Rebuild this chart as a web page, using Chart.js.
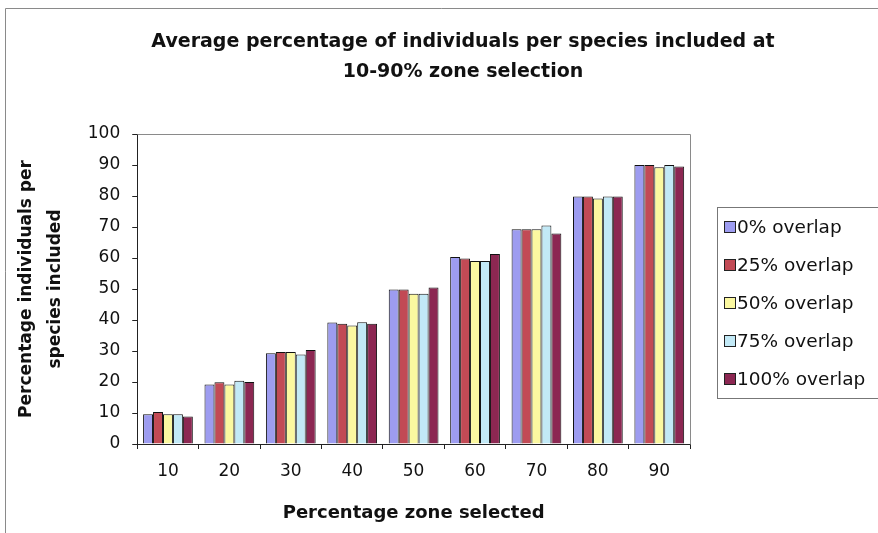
<!DOCTYPE html>
<html>
<head>
<meta charset="utf-8">
<script src="https://cdn.jsdelivr.net/npm/chart.js@4"></script>
<style>
    html, body { margin: 0; padding: 0; background: #fff; }
    #wrap { width: 878px; height: 533px; }
</style>
</head>
<body>
<div id="wrap"><canvas id="graf" width="878" height="533"></canvas></div>
<script>
const zones = ["10", "20", "30", "40", "50", "60", "70", "80", "90"];
const seriesNames = ["0% overlap", "25% overlap", "50% overlap", "75% overlap", "100% overlap"];
const overlap0 = [9.6, 19.2, 29.3, 39.2, 49.8, 60.3, 69.3, 79.8, 90.0];
const overlap25 = [10.3, 19.9, 29.7, 38.8, 49.8, 59.8, 69.3, 79.8, 90.0];
const overlap50 = [9.6, 19.2, 29.7, 38.2, 48.5, 59.0, 69.3, 79.2, 89.3];
const overlap75 = [9.6, 20.4, 28.9, 39.3, 48.5, 59.0, 70.5, 79.8, 90.0];
const overlap100 = [8.9, 20.0, 30.3, 38.8, 50.5, 61.3, 67.9, 79.8, 89.5];
const colors = ["#9d9cf0", "#c24a55", "#fbf8a0", "#c2e9f6", "#8c2752"];
const titleLines = ["Average percentage of individuals per species included at", "10-90% zone selection"];

const FONT = "'DejaVu Sans', Arial, sans-serif";

// rahmen, titel und legende selbst zeichnen
const extras = {
    id: "extras",
    beforeDraw(chart) {
        const ctx = chart.ctx;
        ctx.save();
        ctx.strokeStyle = "#8a8a8a";
        ctx.lineWidth = 1;
        ctx.beginPath();
        ctx.moveTo(5.5, 540);
        ctx.lineTo(5.5, 8.5);
        ctx.lineTo(878, 8.5);
        ctx.stroke();
        ctx.restore();
    },
    afterDraw(chart) {
        const ctx = chart.ctx;
        const a = chart.chartArea;
        ctx.save();
        // obere und rechte kante der plotflaeche
        ctx.strokeStyle = "#8a8a8a";
        ctx.lineWidth = 1;
        ctx.beginPath();
        ctx.moveTo(Math.round(a.left) + 0.5, Math.round(a.top) + 0.5);
        ctx.lineTo(Math.round(a.right) + 0.5, Math.round(a.top) + 0.5);
        ctx.lineTo(Math.round(a.right) + 0.5, Math.round(a.bottom) + 0.5);
        ctx.stroke();

        // titel
        ctx.fillStyle = "#111";
        ctx.font = "bold 19px " + FONT;
        ctx.textAlign = "center";
        ctx.textBaseline = "middle";
        titleLines.forEach((t, i) => ctx.fillText(t, 463, 42 + i * 30));

        // legende
        ctx.strokeStyle = "#777";
        ctx.strokeRect(717.5, 207.5, 200, 191);
        ctx.font = "18.5px " + FONT;
        ctx.textAlign = "left";
        chart.data.datasets.forEach((ds, i) => {
            const y = 227 + i * 38;
            ctx.fillStyle = ds.backgroundColor;
            ctx.fillRect(724, y - 5, 11, 11);
            ctx.strokeStyle = "#222";
            ctx.strokeRect(724.5, y - 5.5, 11, 11);
            ctx.fillStyle = "#111";
            ctx.fillText(ds.label, 737, y + 1);
        });
        ctx.restore();
    }
};

const allSeries = [overlap0, overlap25, overlap50, overlap75, overlap100];

const ctx = document.getElementById("graf").getContext("2d");
new Chart(ctx, {
    type: "bar",
    data: {
        labels: zones,
        datasets: allSeries.map((values, i) => ({
            label: seriesNames[i],
            data: values,
            backgroundColor: colors[i],
            borderColor: "#111",
            borderWidth: 1,
            borderSkipped: "bottom",
            categoryPercentage: 0.81,
            barPercentage: 1.0
        }))
    },
    options: {
        responsive: false,
        animation: false,
        layout: {
            padding: { top: 134, right: 188, left: 12, bottom: 9 }
        },
        plugins: {
            legend: { display: false },
            title: { display: false },
            tooltip: { enabled: false }
        },
        scales: {
            x: {
                grid: {
                    offset: true,
                    drawOnChartArea: false,
                    tickLength: 5,
                    color: "#222"
                },
                border: { color: "#222" },
                ticks: {
                    color: "#111",
                    font: { family: FONT, size: 17 },
                    padding: 12
                },
                title: {
                    display: true,
                    text: "Percentage zone selected",
                    color: "#111",
                    font: { family: FONT, size: 18, weight: "bold" },
                    padding: { top: 9, bottom: 0 }
                }
            },
            y: {
                min: 0,
                max: 100,
                ticks: {
                    stepSize: 10,
                    color: "#111",
                    font: { family: FONT, size: 17 },
                    padding: 12
                },
                grid: {
                    drawOnChartArea: false,
                    tickLength: 5,
                    color: "#222"
                },
                border: { color: "#222" },
                title: {
                    display: true,
                    text: ["Percentage individuals per", "species included"],
                    color: "#111",
                    font: { family: FONT, size: 17, weight: "bold", lineHeight: 1.7 },
                    padding: { top: 0, bottom: 6 }
                }
            }
        }
    },
    plugins: [extras]
});
</script>
</body>
</html>
